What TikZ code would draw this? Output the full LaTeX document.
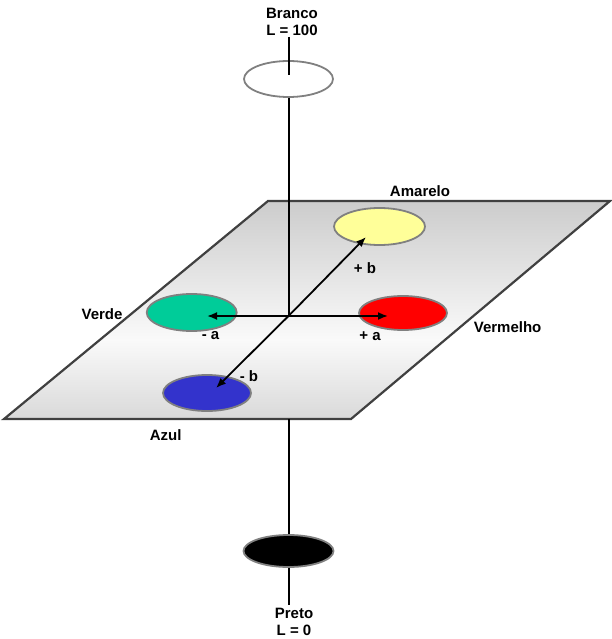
\documentclass[tikz,border=0pt]{standalone}
\usepackage{fontspec}
\setmainfont{Liberation Sans}
\usetikzlibrary{shapes.geometric,arrows.meta}
\definecolor{cyel}{HTML}{FFFF99}
\definecolor{cgrn}{HTML}{00CC99}
\definecolor{cred}{HTML}{FF0000}
\definecolor{cblu}{HTML}{3333CC}
\begin{document}
\begin{tikzpicture}[x=1pt,y=-1pt,
  disc/.style={ellipse,draw=black!50,line width=1.8pt,inner sep=0pt},
  lbl/.style={font=\fontsize{15}{17}\selectfont\bfseries,inner sep=0pt,align=center},
  axisline/.style={line width=2pt},
  arr/.style={line width=1.8pt,-{Latex[length=10pt,width=8pt]}}]
\useasboundingbox (0,0) rectangle (611,639);
% plane
\coordinate (p1) at (268,201);
\coordinate (p2) at (610,201);
\coordinate (p3) at (351,419);
\coordinate (p4) at (4,419);
\begin{scope}
\clip (p1)--(p2)--(p3)--(p4)--cycle;
\shade[top color=black!20,bottom color=black!2] (0,201) rectangle (611,340);
\shade[top color=black!2,bottom color=black!15] (0,339.5) rectangle (611,420);
\end{scope}
\draw[black!75,line width=2.2pt,line join=miter] (p1)--(p2)--(p3)--(p4)--cycle;
% key points
\coordinate (c) at (288.5,316);
\coordinate (wtop) at (288.5,37);
\coordinate (wmid) at (288.5,75);
\coordinate (pb) at (288.5,419);
\coordinate (kb) at (288.5,605);
\coordinate (tl) at (207,316);
\coordinate (tr) at (388,316);
\coordinate (tu) at (366,237);
\coordinate (td) at (216,388);
% white disc and axis
\node[disc,fill=white,minimum width=89pt,minimum height=36pt] (w) at (288.5,79) {};
\draw[axisline] (w.south) -- (c);
\draw[axisline] (wtop) -- (wmid);
% colour discs
\node[disc,fill=cyel,minimum width=91pt,minimum height=37pt] (y) at (379.5,226.5) {};
\node[disc,fill=cgrn,minimum width=90pt,minimum height=37pt] (g) at (191.7,312.5) {};
\node[disc,fill=cred,minimum width=88pt,minimum height=34pt] (r) at (403,313) {};
\node[disc,fill=cblu,minimum width=88pt,minimum height=36pt] (b) at (207,393) {};
% black disc
\node[disc,fill=black,minimum width=90pt,minimum height=32pt] (k) at (288.5,551) {};
\draw[axisline] (pb) -- (k.north);
\draw[axisline] (k.south) -- (kb);
% arrows
\draw[arr] (c) -- (tl);
\draw[arr] (c) -- (tr);
\draw[arr] (c) -- (tu);
\draw[arr] (c) -- (td);
% labels
\node[lbl,anchor=north] (branco) at (292,8) {Branco\\L = 100};
\node[lbl,anchor=north] (preto) at (294,608) {Preto\\L = 0};
\node[lbl] (amarelo) at (420,191) {Amarelo};
\node[lbl] (verde) at (102,314) {Verde};
\node[lbl] (vermelho) at (507.6,327) {Vermelho};
\node[lbl] (azul) at (165.7,435) {Azul};
\node[lbl] (ma) at (210.5,336) {- a};
\node[lbl] (pa) at (370,336) {+ a};
\node[lbl] (pbl) at (365,268) {+ b};
\node[lbl] (mb) at (249,376) {- b};
\end{tikzpicture}
\end{document}
